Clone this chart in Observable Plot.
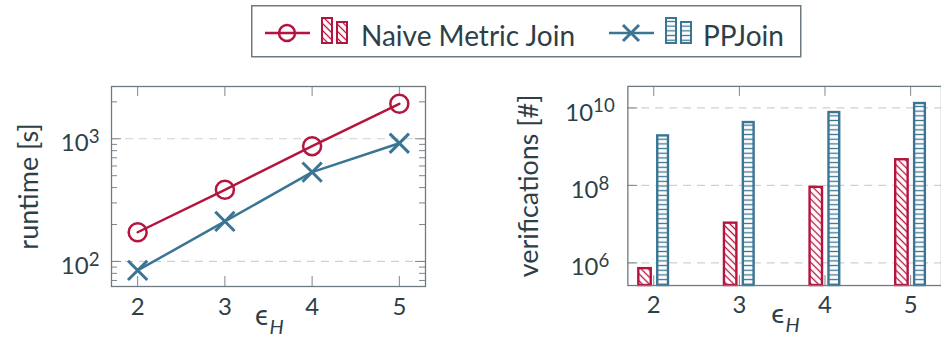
<!DOCTYPE html>
<html><head><meta charset="utf-8">
<script src="https://cdn.jsdelivr.net/npm/d3@7"></script>
<script src="https://cdn.jsdelivr.net/npm/@observablehq/plot@0.6"></script>
<style>
html,body{margin:0;padding:0;background:#fff;}
body{width:941px;height:342px;overflow:hidden;position:relative;font-family:Lato,"Open Sans",sans-serif;color:#2e3f47;}
#legend{position:absolute;left:251px;top:5px;}
#left{position:absolute;left:0;top:62px;}
#right{position:absolute;left:480px;top:62px;}
g[aria-label$="tick label"]{font-size:24px !important;}
</style></head><body>
<svg width="0" height="0" style="position:absolute">
  <defs>
    <pattern id="hatchRed" patternUnits="userSpaceOnUse" width="5" height="5" patternTransform="rotate(-45)">
      <rect width="5" height="5" fill="#fff"/>
      <line x1="2.5" y1="-1" x2="2.5" y2="6" stroke="#b5143f" stroke-width="1.3"/>
    </pattern>
    <pattern id="hatchBlue" patternUnits="userSpaceOnUse" width="6" height="4.7">
      <rect width="6" height="4.7" fill="#fff"/>
      <line x1="-1" y1="2.35" x2="7" y2="2.35" stroke="#3a7594" stroke-width="1.3"/>
    </pattern>
  </defs>
</svg>
<div id="legend"></div><div id="left"></div><div id="right"></div>
<script>
// ---- data ----
const eps = [2, 3, 4, 5];
const seriesNames = ["Naive Metric Join", "PPJoin"];
const runtimeNaive = [173, 384, 871, 1927];
const runtimePP = [84.5, 212, 535, 920];
const verifNaive = [7.1e5, 1.06e7, 8.9e7, 4.6e8];
const verifPP = [1.9e9, 4.2e9, 7.6e9, 1.3e10];
const leftMajorTicks = [100, 1000];
const leftMinorTicks = [70, 80, 90, 200, 300, 400, 500, 600, 700, 800, 900, 2000];
const rightMajorTicks = [1e6, 1e8, 1e10];

// ---- style ----
const RED = "#b5143f", BLUE = "#3a7594", TEXT = "#2e3f47";
const FRAME = "#6f7a80", TICK = "#7d878c", GRID = "#cdd1d4";
const FONT = "Lato, 'Open Sans', sans-serif";

const runtimeRows = eps.map((e, i) => ({eps: e, naive: runtimeNaive[i], pp: runtimePP[i]}));
const verifRows = eps.map((e, i) => ({eps: e, naive: verifNaive[i], pp: verifPP[i]}));
const powFmt = d => "10^" + Math.round(Math.log10(d));

function supify(svg) {
  svg.querySelectorAll("text").forEach(t => {
    const m = /^10\^(\d+)$/.exec(t.textContent);
    if (m) t.innerHTML = '10<tspan dy="-0.45em" font-size="0.78em">' + m[1] + '</tspan>';
  });
  return svg;
}

// ---- left: runtime ----
const LFW = 314, LFH = 200;
const leftPlot = Plot.plot({
  width: 440, height: 280, marginLeft: 111, marginRight: 15, marginTop: 24, marginBottom: 56,
  style: {fontFamily: FONT, fontSize: "22px", color: TEXT, background: "transparent", overflow: "visible"},
  x: {domain: [1.7, 5.3]},
  y: {type: "log", domain: [62.5, 2667]},
  marks: [
    Plot.ruleY(leftMajorTicks, {stroke: GRID, strokeDasharray: "8,6", strokeWidth: 1.2}),
    Plot.ruleY(leftMajorTicks, {stroke: TICK, insetRight: LFW - 10}),
    Plot.ruleY(leftMajorTicks, {stroke: TICK, insetLeft: LFW - 10}),
    Plot.ruleY(leftMinorTicks, {stroke: TICK, insetRight: LFW - 6}),
    Plot.ruleY(leftMinorTicks, {stroke: TICK, insetLeft: LFW - 6}),
    Plot.ruleX(eps, {stroke: TICK, insetBottom: LFH - 10}),
    Plot.ruleX(eps, {stroke: TICK, insetTop: LFH - 10}),
    Plot.frame({stroke: FRAME, strokeWidth: 1.3}),
    Plot.line(runtimeRows, {x: "eps", y: "naive", stroke: RED, strokeWidth: 2.5}),
    Plot.line(runtimeRows, {x: "eps", y: "pp", stroke: BLUE, strokeWidth: 2.5}),
    Plot.dot(runtimeRows, {x: "eps", y: "naive", r: 9, stroke: RED, strokeWidth: 2.5, fill: "none"}),
    Plot.dot(runtimeRows, {x: "eps", y: "pp", r: 8.8, symbol: "times", stroke: BLUE, strokeWidth: 3}),
    Plot.axisX({ticks: eps, tickSize: 0, tickPadding: 11, tickFormat: d => String(d), label: null}),
    Plot.axisY({ticks: leftMajorTicks, tickSize: 0, tickPadding: 12, tickFormat: powFmt, dy: 5, label: null}),
    Plot.text(["runtime [s]"], {frameAnchor: "left", rotate: -90, textAnchor: "middle", dx: -82, fontSize: 27, fill: TEXT}),
    Plot.text(["ϵ"], {frameAnchor: "bottom", textAnchor: "middle", dy: 38, dx: -7, fontSize: 28, fill: TEXT}),
    Plot.text(["H"], {frameAnchor: "bottom", textAnchor: "middle", dy: 47, dx: 8, fontSize: 20, fontStyle: "italic", fill: TEXT})
  ]
});
document.getElementById("left").appendChild(supify(leftPlot));

// ---- right: verifications ----
const RFW = 315, RFH = 200;
const rightPlot = Plot.plot({
  width: 463, height: 280, marginLeft: 148, marginRight: 0, marginTop: 24, marginBottom: 56,
  style: {fontFamily: FONT, fontSize: "22px", color: TEXT, background: "transparent", overflow: "visible"},
  x: {type: "band", domain: eps, paddingInner: 0.6, paddingOuter: 0.112, align: 0.42},
  y: {type: "log", domain: [2.6e5, 3.6e10]},
  marks: [
    Plot.ruleY(rightMajorTicks, {stroke: GRID, strokeDasharray: "8,6", strokeWidth: 1.2}),
    Plot.ruleY(rightMajorTicks, {stroke: TICK, insetRight: RFW - 10}),
    Plot.ruleX(eps, {stroke: TICK, insetBottom: RFH - 10}),
    Plot.ruleX(eps, {stroke: TICK, insetTop: RFH - 10}),
    Plot.barY(verifRows, {x: "eps", y1: 2.6e5, y2: "naive", fill: "url(#hatchRed)", stroke: RED, strokeWidth: 2.4, insetLeft: 2, insetRight: 19.5}),
    Plot.barY(verifRows, {x: "eps", y1: 2.6e5, y2: "pp", fill: "url(#hatchBlue)", stroke: BLUE, strokeWidth: 2.4, insetLeft: 21, insetRight: 2.2}),
    Plot.frame({stroke: FRAME, strokeWidth: 1.3}),
    Plot.axisX({tickSize: 0, tickPadding: 11, tickFormat: d => String(d), label: null}),
    Plot.axisY({ticks: rightMajorTicks, tickSize: 0, tickPadding: 38, textAnchor: "middle", tickFormat: powFmt, dy: 5, label: null}),
    Plot.text(["verifications [#]"], {frameAnchor: "left", rotate: -90, textAnchor: "middle", dx: -99, fontSize: 27, fill: TEXT}),
    Plot.text(["ϵ"], {frameAnchor: "bottom", textAnchor: "middle", dy: 38, dx: -7, fontSize: 28, fill: TEXT}),
    Plot.text(["H"], {frameAnchor: "bottom", textAnchor: "middle", dy: 47, dx: 8, fontSize: 20, fontStyle: "italic", fill: TEXT})
  ]
});
document.getElementById("right").appendChild(supify(rightPlot));

// ---- legend ----
const lg = d3.select("#legend").append("svg").attr("width", 551).attr("height", 53)
  .style("font-family", FONT);
lg.append("rect").attr("x", 0.75).attr("y", 0.75).attr("width", 549).attr("height", 51)
  .attr("fill", "#fff").attr("stroke", FRAME).attr("stroke-width", 1.5);
const legendItems = [
  {name: seriesNames[0], color: RED, fill: "url(#hatchRed)", marker: "circle", x0: 14, tx: 110},
  {name: seriesNames[1], color: BLUE, fill: "url(#hatchBlue)", marker: "times", x0: 358, tx: 452}
];
legendItems.forEach(it => {
  const g = lg.append("g");
  g.append("line").attr("x1", it.x0).attr("x2", it.x0 + 45).attr("y1", 28).attr("y2", 28)
    .attr("stroke", it.color).attr("stroke-width", 2.5);
  const cx = it.x0 + 22;
  if (it.marker === "circle") {
    g.append("circle").attr("cx", cx).attr("cy", 28).attr("r", 8).attr("fill", "none")
      .attr("stroke", it.color).attr("stroke-width", 2.5);
  } else {
    g.append("path").attr("d", `M${cx-8},20L${cx+8},36M${cx-8},36L${cx+8},20`)
      .attr("stroke", it.color).attr("stroke-width", 3).attr("fill", "none");
  }
  g.append("rect").attr("x", it.x0 + 57).attr("y", 13).attr("width", 10).attr("height", 25)
    .attr("fill", it.fill).attr("stroke", it.color).attr("stroke-width", 2);
  g.append("rect").attr("x", it.x0 + 72).attr("y", 17).attr("width", 10).attr("height", 21)
    .attr("fill", it.fill).attr("stroke", it.color).attr("stroke-width", 2);
  g.append("text").attr("x", it.tx).attr("y", 41).attr("font-size", 28).attr("fill", TEXT).text(it.name);
});
</script>
</body></html>
